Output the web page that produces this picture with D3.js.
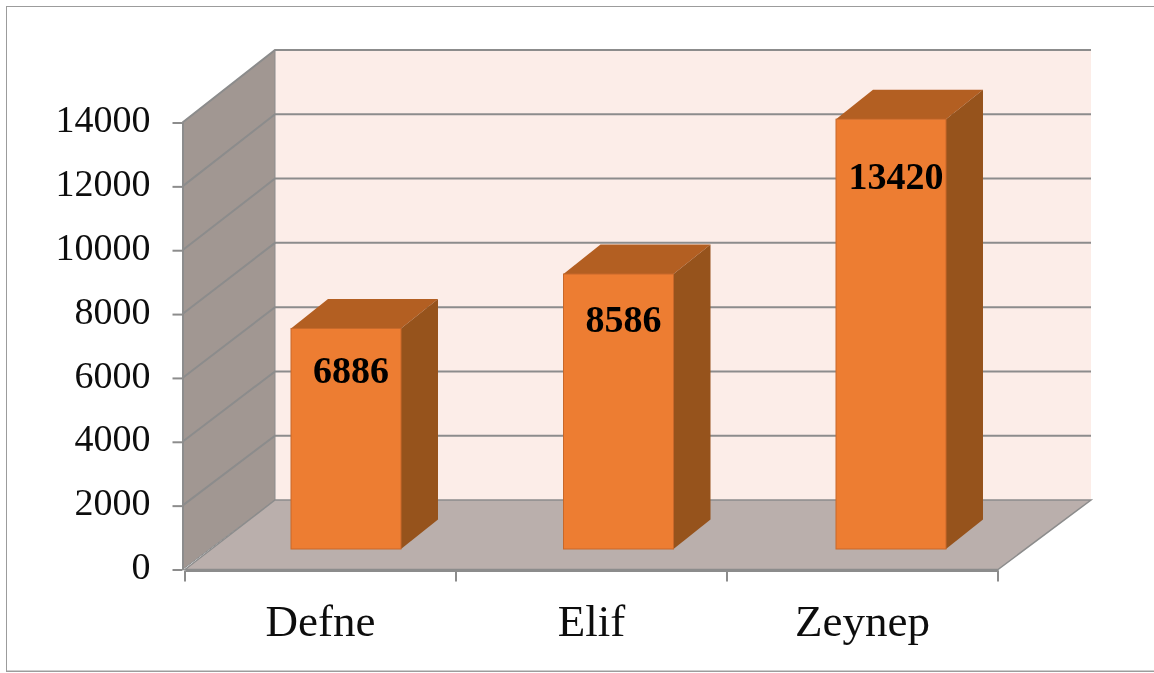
<!DOCTYPE html>
<html lang="tr">

<head>
    <meta charset="UTF-8">
    <title>Defne Elif Zeynep</title>
    <style>
        html, body {
            margin: 0;
            padding: 0;
            background: #fff;
            overflow: hidden;
        }

        text {
            font-family: "Liberation Serif", serif;
            fill: #111;
        }

        .tick line, .domain {
            stroke: #8c8c8c;
            stroke-width: 2;
        }
    </style>
</head>

<body>
    <svg width="1154" height="673" id="svg">
        <defs>
            <filter id="soft" x="0" y="0" width="100%" height="100%">
                <feGaussianBlur stdDeviation="0.7"></feGaussianBlur>
            </filter>
        </defs>
    </svg>
    <script src="https://d3js.org/d3.v7.min.js"></script>
    <script>
        const names = ["Defne", "Elif", "Zeynep"]
        const values = [6886, 8586, 13420]
        const yTicks = [0, 2000, 4000, 6000, 8000, 10000, 12000, 14000]

        const svg = d3.select("svg#svg")
        const g = svg.append("g").attr("filter", "url(#soft)")

        // front plane and back wall scales
        const xScale = d3.scaleBand().domain(names).range([185, 998])
        const yScale = d3.scaleLinear().domain([0, 14000]).range([569.5, 122.5])
        const yBack = d3.scaleLinear().domain([0, 14000]).range([500, 50])

        // bars stand further back, so they get their own scales
        const xBar = d3.scaleBand().domain(names).range([209.75, 1027.25])
        const yBar = d3.scaleLinear().domain([0, 14000]).range([549, 100.6])

        const wallLeft = 182.5
        const backLeft = 275
        const backRight = 1091
        const line = d3.line()

        // outer frame, the right side is cut off by the picture
        g.append("rect")
            .attr("x", 6).attr("y", 6).attr("width", 1170).attr("height", 665.5)
            .attr("fill", "#fff").attr("stroke", "#9c9c9c").attr("stroke-width", 2)

        // back wall
        g.append("rect")
            .attr("x", backLeft).attr("y", yBack(14000))
            .attr("width", backRight - backLeft).attr("height", yBack(0) - yBack(14000))
            .attr("fill", "#fcede8")

        // left wall
        g.append("path")
            .attr("d", line([[wallLeft, yScale(14000)], [backLeft, yBack(14000)], [backLeft, yBack(0)], [wallLeft, yScale(0)]]) + "Z")
            .attr("fill", "#a19792").attr("stroke", "#8c8c8c").attr("stroke-width", 1)

        // floor
        g.append("path")
            .attr("d", line([[185, yScale(0)], [backLeft, yBack(0)], [backRight, yBack(0)], [998, yScale(0)]]) + "Z")
            .attr("fill", "#baafac").attr("stroke", "#8c8c8c").attr("stroke-width", 1.5)

        // grid lines along the walls
        g.append("g").selectAll("path")
            .data(yTicks.slice(1))
            .join("path")
            .attr("d", d => line([[wallLeft, yScale(d)], [backLeft, yBack(d)], [backRight, yBack(d)]]))
            .attr("fill", "none")
            .attr("stroke", "#8c8c8c")
            .attr("stroke-width", 2)

        // axes
        const yAxis = g.append("g")
            .attr("transform", `translate(${wallLeft}, 0)`)
            .call(d3.axisLeft(yScale).tickValues(yTicks).tickFormat(d3.format("d")).tickSize(10).tickSizeOuter(0).tickPadding(22))
        yAxis.selectAll("text").attr("font-size", 38).attr("y", -3)

        const xAxis = g.append("g")
            .attr("transform", `translate(0, ${yScale(0) + 1})`)
            .call(d3.axisBottom(xScale).tickSize(0).tickSizeOuter(0))
        xAxis.selectAll("text").attr("font-size", 45).attr("y", 65).attr("dy", 0)
        xAxis.selectAll(".boundary")
            .data([...names.map(d => xScale(d)), xScale.range()[1]])
            .join("line")
            .attr("class", "boundary")
            .attr("x1", d => d).attr("x2", d => d)
            .attr("y1", 0).attr("y2", 11)
            .attr("stroke", "#8c8c8c").attr("stroke-width", 2)

        // bars
        const barWidth = 110
        const depthX = 37
        const depthY = 29.5
        const barLeft = d => xBar(d.name) + (xBar.bandwidth() - barWidth) / 2
        const barTop = d => yBar(d.value)
        const barBottom = yBar(0)

        const bars = g.append("g").selectAll("g")
            .data(names.map((name, i) => ({ name: name, value: values[i] })))
            .join("g")

        bars.append("path")
            .attr("d", d => line([
                [barLeft(d), barTop(d)],
                [barLeft(d) + depthX, barTop(d) - depthY],
                [barLeft(d) + barWidth + depthX, barTop(d) - depthY],
                [barLeft(d) + barWidth, barTop(d)]
            ]) + "Z")
            .attr("fill", "#b35e21")

        bars.append("path")
            .attr("d", d => line([
                [barLeft(d) + barWidth, barTop(d)],
                [barLeft(d) + barWidth + depthX, barTop(d) - depthY],
                [barLeft(d) + barWidth + depthX, barBottom - depthY],
                [barLeft(d) + barWidth, barBottom]
            ]) + "Z")
            .attr("fill", "#96521c")

        bars.append("rect")
            .attr("x", barLeft)
            .attr("y", barTop)
            .attr("width", barWidth)
            .attr("height", d => barBottom - barTop(d))
            .attr("fill", "#ed7d31")
            .attr("stroke", "#c8682a")
            .attr("stroke-width", 1)

        // value labels, they sit lower on the taller bars
        bars.append("text")
            .attr("x", d => barLeft(d) + barWidth / 2 + 5)
            .attr("y", d => barTop(d) + 25 + 0.075 * (barBottom - barTop(d)))
            .attr("dy", "0.33em")
            .attr("text-anchor", "middle")
            .attr("font-size", 38)
            .attr("font-weight", "bold")
            .style("fill", "#000")
            .text(d => d.value)
    </script>
</body>

</html>
